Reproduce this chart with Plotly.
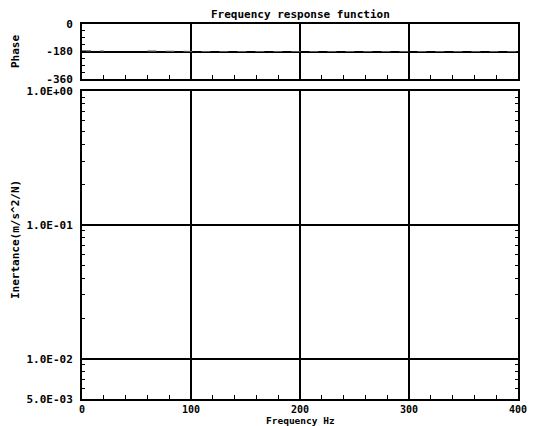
import plotly.graph_objects as go

# ---- data ----
freq_hz = [0, 5, 10, 15, 20, 25, 30, 35, 40, 45, 50, 55, 60, 65, 70, 75, 80, 85, 90, 95,
           100, 120, 140, 160, 180, 200, 220, 240, 260, 280, 300, 320, 340, 360, 380, 400]
phase_deg = [-176, -177, -177, -178, -177, None, None, None, None, None, -178, None, -177, -178,
             -178, -177, -176, -177, -178, -179, -180, -180, -180, -180, -180, -180, -180,
             -180, -180, -180, -180, -180, -180, -180, -180, -180]

x_ticks = [0, 100, 200, 300, 400]
phase_ticks = [0, -180, -360]
phase_tick_labels = ["0", "-180", "-360"]
inert_ticks = [1.0, 0.1, 0.01, 0.005]
inert_tick_labels = ["1.0E+00", "1.0E-01", "1.0E-02", "5.0E-03"]
inert_minor = [0.006, 0.007, 0.008, 0.009, 0.02, 0.03, 0.04, 0.05, 0.06, 0.07, 0.08, 0.09,
               0.2, 0.3, 0.4, 0.5, 0.6, 0.7, 0.8, 0.9]

FAM = "DejaVu Sans Mono"
FONT = dict(family=FAM, size=11, color="black", weight="bold")
FONT_X = dict(family=FAM, size=10, color="black", weight="bold")

fig = go.Figure()
fig.add_trace(go.Scatter(x=freq_hz, y=phase_deg, mode="lines",
                         line=dict(color="#555555", width=1.2, dash="dash"),
                         connectgaps=False, xaxis="x2", yaxis="y2", showlegend=False))
fig.add_trace(go.Scatter(x=[None], y=[None], mode="lines", xaxis="x", yaxis="y",
                         showlegend=False))
fig.add_trace(go.Scatter(x=[None], y=[None], mode="lines", xaxis="x", yaxis="y3",
                         showlegend=False))

common_x = dict(range=[0, 400], showline=True, linecolor="black", linewidth=2, mirror=True,
                showgrid=True, gridcolor="black", gridwidth=1.5, zeroline=False, automargin=False,
                tickvals=x_ticks, ticks="inside", ticklen=4, tickcolor="black",
                minor=dict(dtick=20, ticks="inside", ticklen=4, tickcolor="black", showgrid=False))

# plot area in page pixels: x 82..518, y 24..399
H = 375.0
W = 436.0
def px_x(x):
    return (x - 82) / W
def px_y(y):
    return (399 - y) / H

fig.update_layout(
    width=528, height=418,
    margin=dict(l=74, r=18, t=16, b=27),
    paper_bgcolor="white", plot_bgcolor="white",
    font=FONT,
    xaxis=dict(**common_x, anchor="y", domain=[0, 1], showticklabels=True, tickfont=FONT_X,
               ticklabelstandoff=0),
    xaxis2=dict(**common_x, anchor="y2", domain=[0, 1], showticklabels=False, matches="x"),
    yaxis=dict(type="log", range=[-2.30103, 0], domain=[0, 0.8213], anchor="x", automargin=False,
               showline=True, linecolor="black", linewidth=2, mirror=True,
               showgrid=True, gridcolor="black", gridwidth=1.5, zeroline=False,
               tickvals=inert_ticks, ticktext=inert_tick_labels, ticks="inside", ticklen=4,
               tickcolor="black", tickfont=FONT, ticklabelstandoff=5),
    yaxis3=dict(type="log", range=[-2.30103, 0], overlaying="y", anchor="x", automargin=False,
                showline=False, mirror="ticks", showgrid=False, zeroline=False,
                tickvals=inert_minor, ticks="inside", ticklen=3, tickcolor="black",
                showticklabels=False),
    yaxis2=dict(range=[-360, 0], domain=[0.8533, 1], anchor="x2", automargin=False,
                showline=True, linecolor="black", linewidth=2, mirror=True,
                showgrid=True, gridcolor="black", gridwidth=1.5, zeroline=False,
                tickvals=phase_ticks, ticktext=phase_tick_labels, ticks="inside", ticklen=4,
                tickcolor="black", tickfont=FONT, ticklabelstandoff=5,
                minor=dict(dtick=45, ticks="inside", ticklen=3, tickcolor="black", showgrid=False)),
    annotations=[
        dict(text="Frequency response function", xref="paper", yref="paper",
             x=px_x(300), y=px_y(15), showarrow=False, font=FONT,
             xanchor="center", yanchor="middle"),
        dict(text="Phase", xref="paper", yref="paper", x=px_x(15), y=px_y(52),
             showarrow=False, font=FONT, textangle=-90, xanchor="center", yanchor="middle"),
        dict(text="Inertance(m/s^2/N)", xref="paper", yref="paper", x=px_x(15), y=px_y(240),
             showarrow=False, font=FONT, textangle=-90, xanchor="center", yanchor="middle"),
        dict(text="Frequency Hz", xref="paper", yref="paper", x=px_x(300), y=px_y(420),
             showarrow=False, font=dict(family=FAM, size=9.5, color="black", weight="bold"),
             xanchor="center", yanchor="middle"),
    ],
)

fig.write_html("out.html")
